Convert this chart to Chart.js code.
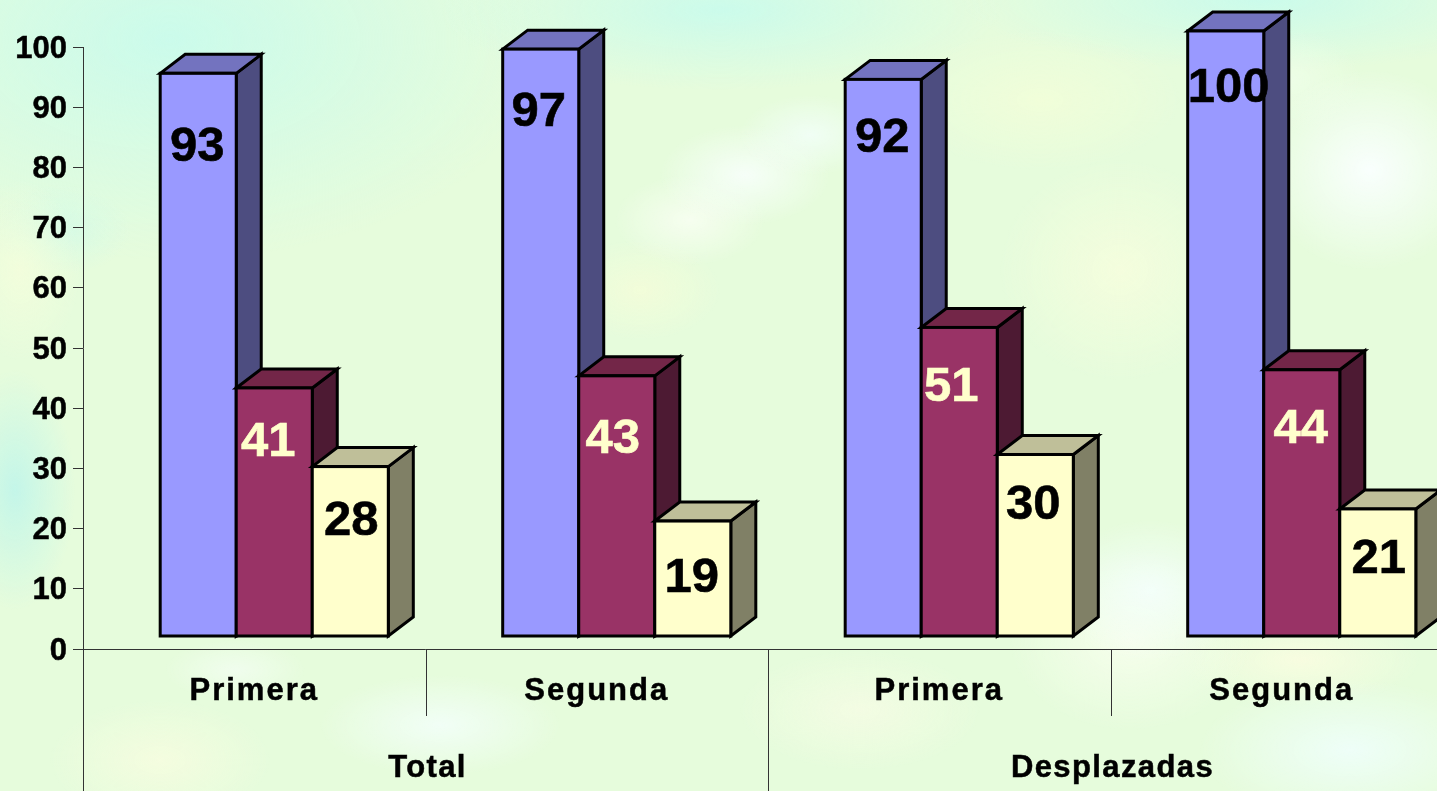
<!DOCTYPE html>
<html>
<head>
<meta charset="utf-8">
<title>Primera y Segunda</title>
<script src="https://cdn.jsdelivr.net/npm/chart.js@4"></script>
<style>
    html, body { margin: 0; padding: 0; width: 1437px; height: 791px; overflow: hidden; }
    body {
        background-color: #e6fcdc;
        background-image:
            radial-gradient(ellipse 70px 40px at 810px 135px, rgba(245,255,255,.7), rgba(255,255,255,0)),
            radial-gradient(ellipse 85px 50px at 745px 175px, rgba(250,255,255,.8), rgba(255,255,255,0)),
            radial-gradient(ellipse 75px 45px at 690px 220px, rgba(255,255,250,.65), rgba(255,255,255,0)),
            radial-gradient(ellipse 80px 50px at 640px 290px, rgba(252,253,215,.55), rgba(255,255,255,0)),
            radial-gradient(ellipse 110px 100px at 1370px 170px, rgba(250,255,255,.95), rgba(255,255,255,0)),
            radial-gradient(ellipse 70px 50px at 1290px 80px, rgba(240,255,235,.7), rgba(255,255,255,0)),
            radial-gradient(ellipse 100px 70px at 1150px 590px, rgba(245,255,255,.8), rgba(255,255,255,0)),
            radial-gradient(ellipse 120px 90px at 1130px 640px, rgba(250,255,240,.8), rgba(255,255,255,0)),
            radial-gradient(ellipse 150px 70px at 1350px 750px, rgba(240,255,255,.8), rgba(255,255,255,0)),
            radial-gradient(ellipse 120px 45px at 1300px 660px, rgba(252,253,225,.8), rgba(255,255,255,0)),
            radial-gradient(ellipse 70px 30px at 235px 670px, rgba(250,255,255,.5), rgba(255,255,255,0)),
            radial-gradient(ellipse 120px 50px at 440px 725px, rgba(245,255,255,.75), rgba(255,255,255,0)),
            radial-gradient(ellipse 110px 60px at 160px 760px, rgba(252,253,225,.65), rgba(255,255,255,0)),
            radial-gradient(ellipse 120px 60px at 860px 710px, rgba(252,252,232,.6), rgba(255,255,255,0)),
            radial-gradient(ellipse 120px 110px at 1120px 270px, rgba(252,254,222,.65), rgba(255,255,255,0)),
            radial-gradient(ellipse 140px 70px at 1040px 100px, rgba(248,255,215,.6), rgba(255,255,255,0)),
            radial-gradient(ellipse 60px 90px at 20px 270px, rgba(245,254,220,.8), rgba(255,255,255,0)),
            radial-gradient(ellipse 60px 120px at 15px 490px, rgba(190,245,235,.85), rgba(190,245,235,0)),
            radial-gradient(ellipse 70px 45px at 60px 230px, rgba(205,250,235,.6), rgba(205,250,235,0)),
            radial-gradient(ellipse 280px 80px at 720px 10px, rgba(203,251,235,1), rgba(203,251,235,0)),
            radial-gradient(ellipse 380px 220px at 170px 40px, rgba(203,251,235,1), rgba(203,251,235,0)),
            radial-gradient(ellipse 300px 70px at 1260px 0px, rgba(203,251,235,1), rgba(203,251,235,0));
    }
    canvas { position: absolute; left: 0; top: 0; display: block; }
</style>
</head>
<body>
<canvas id="chart" width="1460" height="791"></canvas>
<script>
    // values
    const categories = ['Primera', 'Segunda', 'Primera', 'Segunda'];
    const groups = ['Total', 'Desplazadas'];
    const blueValues = [93, 97, 92, 100];
    const redValues = [41, 43, 51, 44];
    const yellowValues = [28, 19, 30, 21];
    const yTicks = [0, 10, 20, 30, 40, 50, 60, 70, 80, 90, 100];

    // fake 3D look: front, top and side colours of each series
    const faces = [
        { front: '#9999FF', top: '#7373BF', side: '#4D4D80', text: '#000000' },
        { front: '#993366', top: '#732648', side: '#4D1A33', text: '#FFFFCC' },
        { front: '#FFFFCC', top: '#BFBF99', side: '#808066', text: '#000000' }
    ];
    const depth = { x: 25, y: 19 };
    const shift = { x: 20, y: -13 };

    // where the number sits in each bar, px from the front top edge / bar centre
    const labelDrop = [[74, 63, 59, 58], [55, 64, 60, 60], [55, 57, 51, 51]];
    const labelNudge = [[-1, -2, -1, 3], [-6, -4, -8, -1], [1, -1, -2, 1]];

    const bars3d = {
        id: 'bars3d',
        // takes over from the normal drawing, the left bar has to be painted first here
        beforeDatasetsDraw(chart) {
            const ctx = chart.ctx;
            ctx.save();
            ctx.translate(shift.x, shift.y);
            ctx.lineWidth = 3;
            ctx.strokeStyle = '#000';
            ctx.lineJoin = 'miter';

            chart.data.datasets.forEach((ds, s) => {
                chart.getDatasetMeta(s).data.forEach(bar => {
                    const left = bar.x - bar.width / 2;
                    const right = bar.x + bar.width / 2;

                    ctx.fillStyle = faces[s].side;
                    ctx.beginPath();
                    ctx.moveTo(right, bar.y);
                    ctx.lineTo(right + depth.x, bar.y - depth.y);
                    ctx.lineTo(right + depth.x, bar.base - depth.y);
                    ctx.lineTo(right, bar.base);
                    ctx.closePath();
                    ctx.fill();
                    ctx.stroke();

                    ctx.fillStyle = faces[s].top;
                    ctx.beginPath();
                    ctx.moveTo(left, bar.y);
                    ctx.lineTo(left + depth.x, bar.y - depth.y);
                    ctx.lineTo(right + depth.x, bar.y - depth.y);
                    ctx.lineTo(right, bar.y);
                    ctx.closePath();
                    ctx.fill();
                    ctx.stroke();

                    // outline sits on the edge of the bar, not inside it
                    bar.draw(ctx);
                    ctx.strokeRect(left, bar.y, bar.width, bar.base - bar.y);
                });
            });

            // numbers on top of everything
            ctx.font = 'bold 49px "Liberation Sans"';
            ctx.textAlign = 'center';
            ctx.textBaseline = 'middle';
            ctx.lineWidth = 0.6;
            chart.data.datasets.forEach((ds, s) => {
                chart.getDatasetMeta(s).data.forEach((bar, i) => {
                    ctx.fillStyle = faces[s].text;
                    ctx.strokeStyle = faces[s].text;
                    ctx.fillText(ds.data[i], bar.x + labelNudge[s][i], bar.y + labelDrop[s][i]);
                    ctx.strokeText(ds.data[i], bar.x + labelNudge[s][i], bar.y + labelDrop[s][i]);
                });
            });
            ctx.restore();
            return false;
        },
        // separators of the two level category axis
        afterDraw(chart) {
            const ctx = chart.ctx;
            const { x, x2 } = chart.scales;
            const half = (x.getPixelForValue(1) - x.getPixelForValue(0)) / 2;
            ctx.save();
            ctx.strokeStyle = '#333';
            ctx.lineWidth = 1;
            categories.forEach((c, i) => {
                const px = Math.round(x.getPixelForValue(i) - half) + 0.5;
                ctx.beginPath();
                ctx.moveTo(px, x.top);
                ctx.lineTo(px, i % 2 ? x.bottom : x2.bottom);
                ctx.stroke();
            });
            ctx.restore();
        }
    };

    // small per axis corrections of the tick text
    const labelTweaks = {
        y: { spacing: '0px', dx: -1, dy: 2 },
        x: { spacing: '2px', dx: 0, dy: 0 },
        x2: { spacing: '1.4px', dx: 2, dy: 0 }
    };
    const tweakLabels = {
        id: 'tweakLabels',
        afterLayout(chart) {
            Object.keys(labelTweaks).forEach(id => {
                const scale = chart.scales[id];
                const tweak = labelTweaks[id];
                const drawLabels = scale.constructor.prototype.drawLabels;
                scale.drawLabels = function (area) {
                    chart.ctx.save();
                    chart.ctx.letterSpacing = tweak.spacing;
                    chart.ctx.translate(tweak.dx, tweak.dy);
                    drawLabels.call(this, area);
                    chart.ctx.restore();
                };
            });
        }
    };

    const tickFont = { family: '"Liberation Sans"', size: 31, weight: 'bold' };

    new Chart(document.getElementById('chart'), {
        type: 'bar',
        data: {
            labels: categories,
            datasets: [blueValues, redValues, yellowValues].map((values, s) => ({
                data: values,
                yAxisID: 'yBars',
                backgroundColor: faces[s].front,
                borderWidth: 0
            }))
        },
        options: {
            responsive: false,
            animation: false,
            layout: { padding: { top: 47, right: 7 } },
            categoryPercentage: 0.666,
            barPercentage: 1,
            plugins: { legend: { display: false }, tooltip: { enabled: false } },
            scales: {
                y: {
                    min: 0,
                    max: 100,
                    afterFit(scale) { scale.width = 83; },
                    afterBuildTicks(scale) { scale.ticks = yTicks.map(value => ({ value })); },
                    border: { color: '#333', width: 1 },
                    grid: { drawOnChartArea: false, color: '#333', tickLength: 10 },
                    ticks: { color: '#000', font: tickFont, padding: 5, autoSkip: false, textStrokeColor: '#000', textStrokeWidth: 0.5 }
                },
                // the bars stand on the floor of the 3D box, slightly bigger than the axis
                yBars: { display: false, min: 0, max: 99.5 },
                x: {
                    afterFit(scale) { scale.height = 67; },
                    border: { color: '#333', width: 1 },
                    grid: { display: false },
                    ticks: { color: '#000', font: tickFont, padding: 16, maxRotation: 0, autoSkip: false, textStrokeColor: '#000', textStrokeWidth: 0.5 }
                },
                x2: {
                    type: 'category',
                    position: 'bottom',
                    labels: groups,
                    afterFit(scale) { scale.height = 75; },
                    border: { display: false },
                    grid: { display: false },
                    ticks: { color: '#000', font: tickFont, padding: 26, maxRotation: 0, autoSkip: false, textStrokeColor: '#000', textStrokeWidth: 0.5 }
                }
            }
        },
        plugins: [bars3d, tweakLabels]
    });
</script>
</body>
</html>
